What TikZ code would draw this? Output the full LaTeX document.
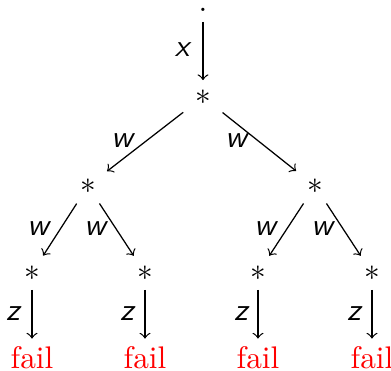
\documentclass[tikz,border=0pt]{standalone}
\usetikzlibrary{arrows}
\begin{document}
\begin{tikzpicture}[x=0.32pt,y=-0.32pt,
  st/.style={inner sep=0pt},
  lbl/.style={inner sep=0pt,font=\sffamily\itshape},
  failn/.style={inner sep=0pt,text=red},
  arr/.style={->,>=to,line width=0.4pt}]
\useasboundingbox (0,0) rectangle (391,371);
\node[st] (r) at (203,10) {.};
\node[st] (a) at (203,97) {$\ast$};
\node[st] (b1) at (88,186) {$\ast$};
\node[st] (b2) at (315,186) {$\ast$};
\node[st] (c1) at (32,273) {$\ast$};
\node[st] (c2) at (145,273) {$\ast$};
\node[st] (c3) at (258,273) {$\ast$};
\node[st] (c4) at (372,273) {$\ast$};
\node[failn] (f1) at (32,358) {fail};
\node[failn] (f2) at (145,358) {fail};
\node[failn] (f3) at (258,358) {fail};
\node[failn] (f4) at (372,358) {fail};
\draw[arr,shorten <=3.8pt,shorten >=5.4pt] (r.center) -- (a.center);
\foreach \p/\c in {a/b1,a/b2}
  \draw[arr,shorten <=8pt,shorten >=7.7pt] (\p.center) -- (\c.center);
\foreach \p/\c in {b1/c1,b1/c2,b2/c3,b2/c4}
  \draw[arr,shorten <=6.7pt,shorten >=6.6pt] (\p.center) -- (\c.center);
\foreach \p/\c in {c1/f1,c2/f2,c3/f3,c4/f4}
  \draw[arr,shorten <=5.4pt,shorten >=6.2pt] (\p.center) -- (\c.center);
\node[lbl] (lx) at (182,50) {x};
\node[lbl] (lw1) at (122,141) {w};
\node[lbl] (lw2) at (236,141) {w};
\node[lbl] (lw3) at (38,229) {w};
\node[lbl] (lw4) at (95,229) {w};
\node[lbl] (lw5) at (265,229) {w};
\node[lbl] (lw6) at (322,229) {w};
\node[lbl] (lz1) at (13,314) {z};
\node[lbl] (lz2) at (127,314) {z};
\node[lbl] (lz3) at (241,314) {z};
\node[lbl] (lz4) at (354,314) {z};
\end{tikzpicture}
\end{document}
